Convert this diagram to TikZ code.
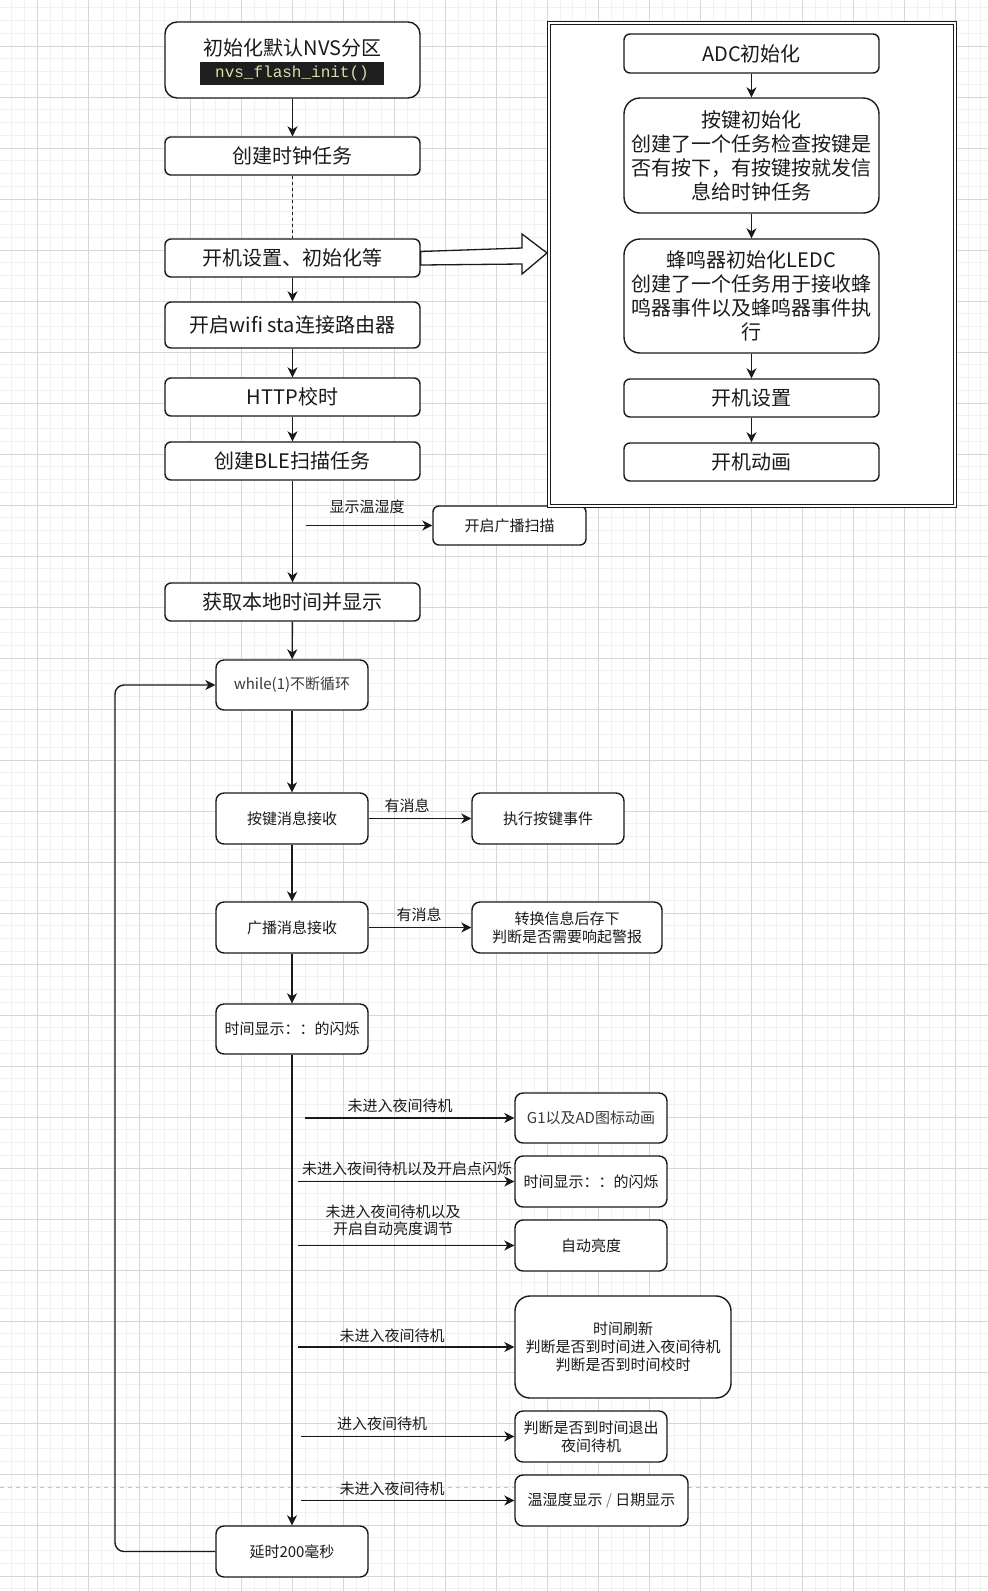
\documentclass[tikz,border=0pt]{standalone}
\usepackage{fontspec}
\setmainfont{Noto Sans CJK SC}
\newfontfamily\codefont{Liberation Mono}
\usetikzlibrary{arrows.meta,calc}
\definecolor{gmin}{HTML}{F1F1F1}
\definecolor{gmaj}{HTML}{D7D7D7}
\definecolor{codebg}{HTML}{1E1E1E}
\definecolor{codefg}{HTML}{DCDCAA}
\definecolor{ink}{HTML}{1A1A1A}
\definecolor{soft}{HTML}{3A3A3A}
\definecolor{pagebreak}{HTML}{C4C4C4}
\tikzset{
  bx/.style={draw=ink, line width=1.4pt, fill=white, rounded corners=6pt, align=center, inner sep=0pt, text=ink},
  big/.style={bx, font=\fontsize{20}{24}\selectfont},
  sml/.style={bx, font=\fontsize{15}{18}\selectfont},
  lbl/.style={font=\fontsize{15}{17}\selectfont, text=ink, inner sep=0pt, align=center},
  arr/.style={draw=ink, line width=1.4pt, -{Stealth[length=10pt,width=10pt,inset=3pt]}},
  ln/.style={draw=ink, line width=1.4pt},
  mingrid/.style={draw=gmin, line width=1pt},
  majgrid/.style={draw=gmaj, line width=1pt},
}
\begin{document}
\begin{tikzpicture}[x=1pt,y=-1pt]
\useasboundingbox (0,0) rectangle (988,1591);
\fill[white] (0,0) rectangle (988,1591);
% grid
\foreach \i in {0,...,76} { \draw[mingrid] ({11.8+12.75*\i},0) -- ++(0,1591); }
\foreach \j in {0,...,124} { \draw[mingrid] (0,{7.75+12.75*\j}) -- ++(988,0); }
\foreach \i in {0,...,18} { \draw[majgrid] ({37.3+51*\i},0) -- ++(0,1591); }
\foreach \j in {0,...,30} { \draw[majgrid] (0,{46+51*\j}) -- ++(988,0); }
% page break line
\draw[draw=pagebreak, line width=1pt, dash pattern=on 4pt off 4pt] (0,1487) -- (988,1487);

% main column
\node[big, minimum width=255, minimum height=76, rounded corners=12pt] (init) at (292.5,60) {};
\node[font=\fontsize{20}{24}\selectfont, text=ink, inner sep=0pt] (initt) at (292.5,48) {初始化默认NVS分区};
\node[fill=codebg, text=codefg, font=\codefont\fontsize{16}{18}\selectfont, minimum width=184, minimum height=23, inner sep=0pt] (code) at (292,73.5) {nvs\_flash\_init()};
\node[big, minimum width=255, minimum height=38] (clock) at (292.5,156) {创建时钟任务};
\node[big, minimum width=255, minimum height=38] (boot) at (292.5,258) {开机设置、初始化等};
\node[big, minimum width=255, minimum height=46] (wifi) at (292.5,325) {开启wifi sta连接路由器};
\node[big, minimum width=255, minimum height=38] (http) at (292.5,397) {HTTP校时};
\node[big, minimum width=255, minimum height=38] (ble) at (292.5,461) {创建BLE扫描任务};
\node[sml, minimum width=153, minimum height=39] (scan) at (509.5,525.5) {开启广播扫描};
\node[big, minimum width=255, minimum height=38] (gettime) at (292.5,602) {获取本地时间并显示};

\node[sml, minimum width=152, minimum height=50, rounded corners=8pt, text=soft] (loop) at (292,685) {while(1)不断循环};
\node[sml, minimum width=152, minimum height=51, rounded corners=8pt] (keyrx) at (292,818.5) {按键消息接收};
\node[sml, minimum width=152, minimum height=51, rounded corners=8pt] (keyexec) at (548,818.5) {执行按键事件};
\node[sml, minimum width=152, minimum height=51, rounded corners=8pt] (advrx) at (292,927.5) {广播消息接收};
\node[sml, minimum width=190, minimum height=51, rounded corners=8pt] (convert) at (567,927.5) {转换信息后存下\\判断是否需要响起警报};
\node[sml, minimum width=152, minimum height=50, rounded corners=8pt] (blink) at (292,1029) {时间显示：：的闪烁};

\node[sml, minimum width=152, minimum height=50, rounded corners=8pt, text=soft] (g1) at (591,1118) {G1以及AD图标动画};
\node[sml, minimum width=152, minimum height=51, rounded corners=8pt] (blinkb) at (591,1181.5) {时间显示：：的闪烁};
\node[sml, minimum width=152, minimum height=51, rounded corners=8pt] (autob) at (591,1245.5) {自动亮度};
\node[sml, minimum width=216, minimum height=102, rounded corners=15pt] (refresh) at (623,1347) {时间刷新\\判断是否到时间进入夜间待机\\判断是否到时间校时};
\node[sml, minimum width=152, minimum height=51, rounded corners=8pt] (exitn) at (591,1436.5) {判断是否到时间退出\\夜间待机};
\node[sml, minimum width=173, minimum height=51, rounded corners=8pt] (tempd) at (601.5,1500.5) {温湿度显示 \textcolor{gray}{/} 日期显示};
\node[sml, minimum width=152, minimum height=51, rounded corners=8pt] (delay) at (292,1551.5) {延时200毫秒};

% right container
\node[draw=ink, line width=1.2pt, double=white, double distance=2pt, fill=white, minimum width=405.6, minimum height=482.8, inner sep=0pt] (cont) at (752,264.5) {};
\node[big, minimum width=255, minimum height=39] (adc) at (751.5,53.5) {ADC初始化};
\node[big, minimum width=255, minimum height=115, rounded corners=16pt] (keyinit) at (751.5,155.5) {按键初始化\\创建了一个任务检查按键是\\否有按下，有按键按就发信\\息给时钟任务};
\node[big, minimum width=255, minimum height=114, rounded corners=16pt] (buzz) at (751.5,296) {蜂鸣器初始化LEDC\\创建了一个任务用于接收蜂\\鸣器事件以及蜂鸣器事件执\\行};
\node[big, minimum width=255, minimum height=38] (bootset) at (751.5,398) {开机设置};
\node[big, minimum width=255, minimum height=38] (bootanim) at (751.5,462) {开机动画};

% block arrow from boot to container
\draw[draw=ink, line width=1.3pt, fill=white, line join=miter]
  ($(boot.east)+(0,-6.5)$) -- (522,248) -- (522,234) -- (547,253) -- (522,274) -- (522,264) -- ($(boot.east)+(0,7)$) -- cycle;

% container arrows
\draw[arr] (adc) -- (keyinit);
\draw[arr] (keyinit) -- (buzz);
\draw[arr] (buzz) -- (bootset);
\draw[arr] (bootset) -- (bootanim);

% main connectors
\draw[arr] (init) -- (clock);
\draw[ln, dash pattern=on 3pt off 3pt] (clock) -- (boot);
\draw[arr] (boot) -- (wifi);
\draw[arr] (wifi) -- (http);
\draw[arr] (http) -- (ble);
\draw[arr] (ble) -- (gettime);
\draw[arr] (gettime) -- (loop);
\draw[arr] (loop) -- (keyrx);
\draw[arr] (keyrx) -- (advrx);
\draw[arr] (advrx) -- (blink);
\draw[arr] (blink) -- (delay);
\draw[arr, rounded corners=9pt] (delay.west) -- (115,1551.5) -- (115,685) -- (loop.west);

% side branches
\coordinate (s0) at (306,525.5);
\draw[arr] (s0) -- (scan.west);
\node[lbl] (l0) at (367,507) {显示温湿度};

\draw[arr] (keyrx) -- (keyexec);
\node[lbl] (l1) at (407,806) {有消息};
\draw[arr] (advrx) -- (convert);
\node[lbl] (l2) at (419,915) {有消息};

\coordinate (s3) at (305,1118);
\draw[arr] (s3) -- (g1.west);
\node[lbl] (l3) at (400,1106) {未进入夜间待机};
\coordinate (s4) at (298,1181.5);
\draw[arr] (s4) -- (blinkb.west);
\node[lbl] (l4) at (407,1169) {未进入夜间待机以及开启点闪烁};
\coordinate (s5) at (298,1245.5);
\draw[arr] (s5) -- (autob.west);
\node[lbl] (l5) at (393,1220.5) {未进入夜间待机以及\\开启自动亮度调节};
\coordinate (s6) at (298,1347);
\draw[arr] (s6) -- (refresh.west);
\node[lbl] (l6) at (392,1336) {未进入夜间待机};
\coordinate (s7) at (301,1436.5);
\draw[arr] (s7) -- (exitn.west);
\node[lbl] (l7) at (382,1424) {进入夜间待机};
\coordinate (s8) at (301,1500.5);
\draw[arr] (s8) -- (tempd.west);
\node[lbl] (l8) at (392,1489) {未进入夜间待机};
\end{tikzpicture}
\end{document}
